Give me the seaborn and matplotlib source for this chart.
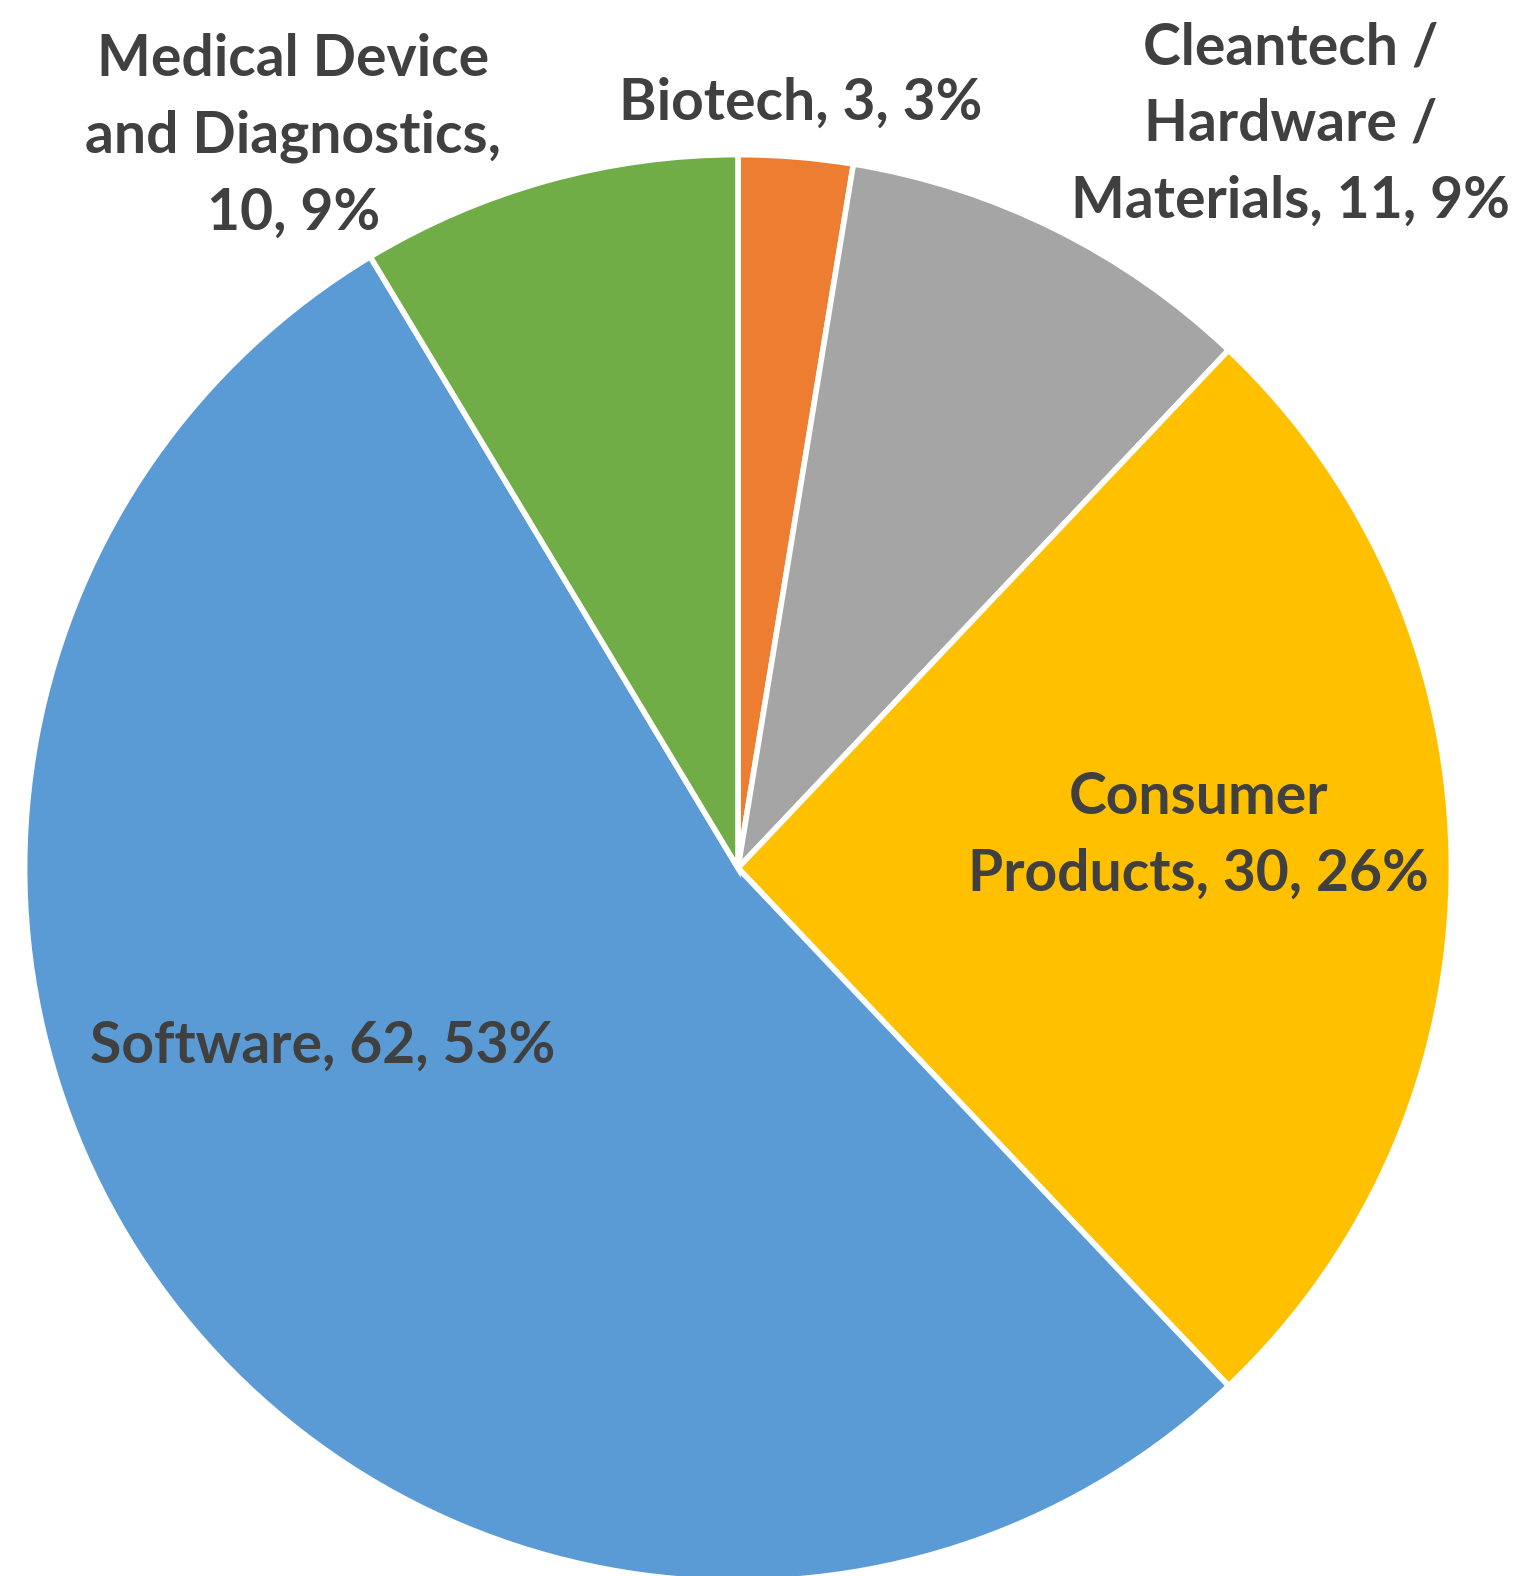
import matplotlib
matplotlib.use("Agg")
import matplotlib.pyplot as plt
import seaborn as sns

# data
sectors = ["Biotech", "Cleantech /\nHardware /\nMaterials", "Consumer\nProducts",
           "Software", "Medical Device\nand Diagnostics,\n"]
counts = [3, 11, 30, 62, 10]
sector_colors = ["#ED7D31", "#A5A5A5", "#FFC000", "#5B9BD5", "#70AD47"]

# label text positions (axis units, pie radius = 1)
label_pos = [(0.088, 1.082), (0.782, 1.052), (0.651, 0.045),
             (-0.587, -0.252), (-0.629, 1.035)]

sns.set_theme(style="white")
plt.rcParams["font.family"] = ["Lato", "DejaVu Sans"]

W, H, DPI = 1528, 1576, 100
cx, cy, R = 738, 868, 707

fig = plt.figure(figsize=(W / DPI, H / DPI), dpi=DPI)
ax = fig.add_axes([0, 0, 1, 1])
ax.pie(counts, colors=sector_colors, startangle=90, counterclock=False,
       radius=1.009, wedgeprops=dict(edgecolor="white", linewidth=4))
ax.set_xlim(-cx / R, (W - cx) / R)
ax.set_ylim(-(H - cy) / R, cy / R)
ax.set_aspect("auto")
ax.axis("off")

total = sum(counts)
for name, n, (x, y) in zip(sectors, counts, label_pos):
    pct = round(100 * n / total)
    if name.endswith("\n"):
        txt = f"{name}{n}, {pct}%"
    else:
        txt = f"{name}, {n}, {pct}%"
    ax.text(x, y, txt, ha="center", va="center", fontsize=41,
            fontweight="bold", color="#404040", linespacing=1.55)

fig.savefig("out.png", dpi=DPI)
